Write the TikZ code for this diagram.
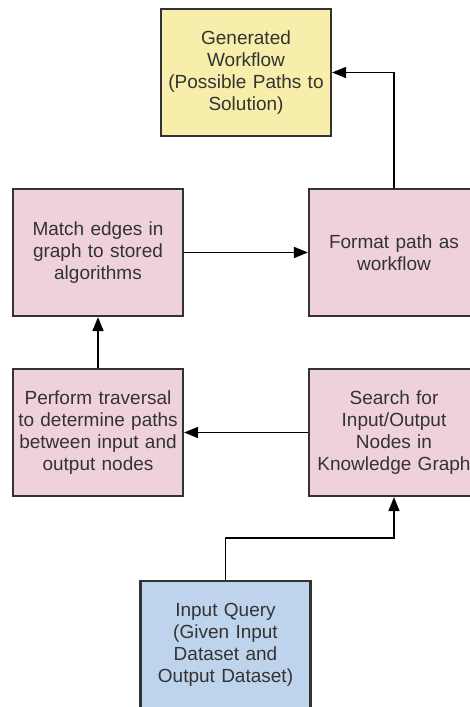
\documentclass[tikz,border=0pt]{standalone}
\usepackage{fontspec}
\setmainfont{Liberation Sans}
\usepackage{tikz}
\usetikzlibrary{arrows.meta}
\definecolor{genyellow}{HTML}{F6EEAA}
\definecolor{steppink}{HTML}{EFD1DD}
\definecolor{queryblue}{HTML}{BED4EC}
\definecolor{edgegray}{HTML}{333333}

\begin{document}
\begin{tikzpicture}[x=1pt,y=-1pt]
\tikzstyle{box}=[rectangle,draw=edgegray,line width=2.2pt,minimum width=170pt,minimum height=127pt,
  inner sep=0pt,text width=168pt,align=center,text=edgegray,font=\fontsize{19}{22}\selectfont]
\tikzstyle{flow}=[draw=black,line width=1.6pt,-{Triangle[length=14pt,width=11pt]}]
\useasboundingbox (0,0) rectangle (470,707);
\clip (0,0) rectangle (470,707);
\foreach \name/\point/\col/\txt in {
	gen/{246,72.5}/genyellow/{Generated\\Workflow\\(Possible Paths to\\Solution)},
	match/{98,252.5}/steppink/{Match edges in\\graph to stored\\algorithms},
	format/{394,252.5}/steppink/{Format path as\\workflow},
	trav/{98,432.5}/steppink/{Perform traversal\\to determine paths\\between input and\\output nodes},
	search/{394,432.5}/steppink/{Search for\\Input/Output\\Nodes in\\Knowledge Graph},
	query/{225.5,644.5}/queryblue/{Input Query\\(Given Input\\Dataset and\\Output Dataset)}}
	\node[box,fill=\col] (\name) at (\point) {\txt};
	% connectors
	\draw[flow] (query.north) -- ++(0,-42) -| (search.south);
	\draw[flow] (search.west) -- (trav.east);
	\draw[flow] (trav.north) -- (match.south);
	\draw[flow] (match.east) -- (format.west);
	\draw[flow] (format.north) |- (gen.east);
\end{tikzpicture}
\end{document}
